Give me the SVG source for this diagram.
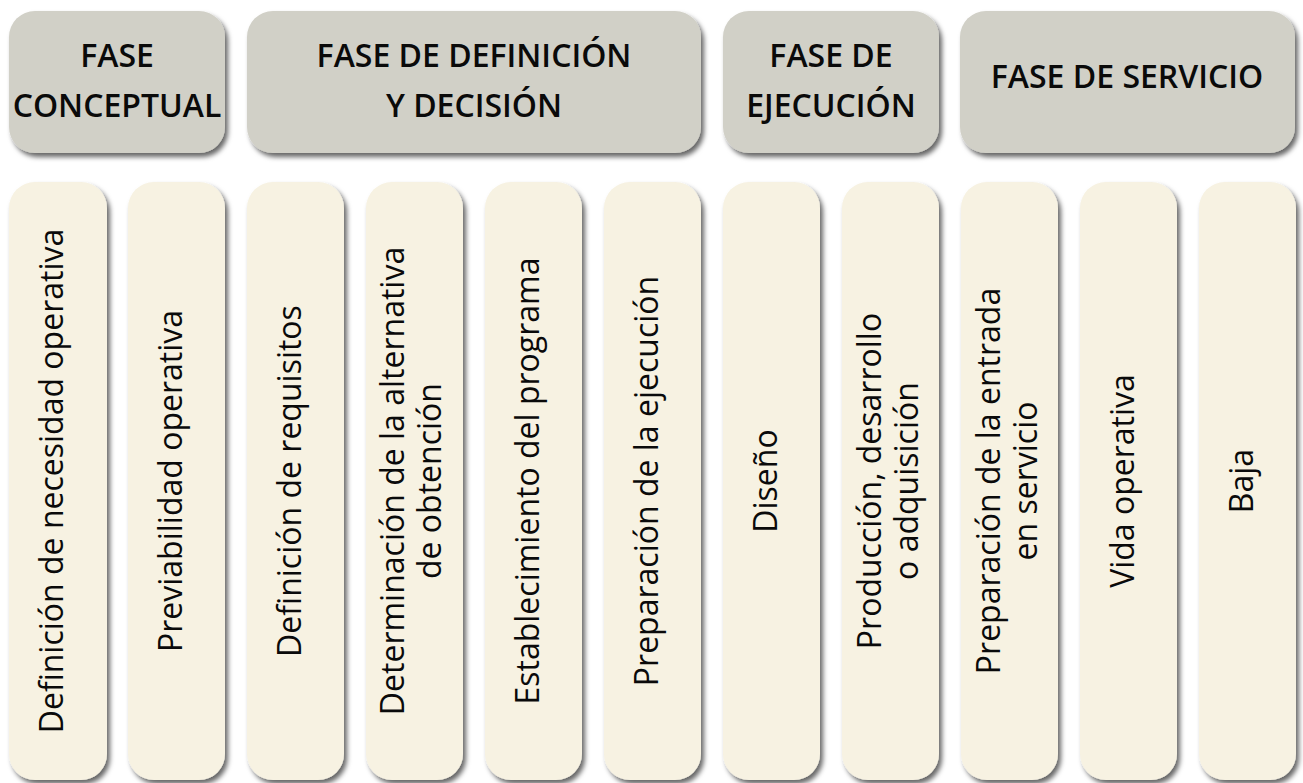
<svg xmlns="http://www.w3.org/2000/svg" width="1303" height="783" viewBox="0 0 1303 783">
<defs>
<filter id="sh" x="-10%" y="-10%" width="130%" height="130%">
<feDropShadow dx="3" dy="4" stdDeviation="2.5" flood-color="#000" flood-opacity="0.6"/>
</filter>
<style>
.hdr{fill:#d1d0c7;filter:url(#sh)}
.col{fill:#f7f2e2;filter:url(#sh)}
.ht{font-family:"Open Sans","Noto Sans",sans-serif;font-weight:600;font-size:32px;fill:#0a0a0a;text-anchor:middle}
.ct{font-family:"Open Sans","Noto Sans",sans-serif;font-weight:400;font-size:32px;fill:#0a0a0a;text-anchor:middle}
</style>
</defs>
<rect width="1303" height="783" fill="#fff"/>
<g id="connectors"/>
<g id="h1"><rect class="hdr" x="9" y="11" width="216" height="142" rx="26"/><text class="ht" x="117" y="67">FASE</text><text class="ht" x="117" y="117">CONCEPTUAL</text></g>
<g id="h2"><rect class="hdr" x="247" y="11" width="454" height="142" rx="26"/><text class="ht" x="474" y="67">FASE DE DEFINICIÓN</text><text class="ht" x="474" y="117">Y DECISIÓN</text></g>
<g id="h3"><rect class="hdr" x="723" y="11" width="216" height="142" rx="26"/><text class="ht" x="831" y="67">FASE DE</text><text class="ht" x="831" y="117">EJECUCIÓN</text></g>
<g id="h4"><rect class="hdr" x="960" y="11" width="335" height="142" rx="26"/><text class="ht" x="1127" y="88">FASE DE SERVICIO</text></g>

<g id="c1"><rect class="col" x="9" y="182" width="98" height="598" rx="26"/><text class="ct" transform="translate(63,481) rotate(-90)">Definición de necesidad operativa</text></g>
<g id="c2"><rect class="col" x="128" y="182" width="97" height="598" rx="26"/><text class="ct" transform="translate(181.5,481) rotate(-90)">Previabilidad operativa</text></g>
<g id="c3"><rect class="col" x="247" y="182" width="97" height="598" rx="26"/><text class="ct" transform="translate(300.5,481) rotate(-90)">Definición de requisitos</text></g>
<g id="c4"><rect class="col" x="366" y="182" width="97" height="598" rx="26"/><text class="ct" transform="translate(404,481) rotate(-90)">Determinación de la alternativa</text><text class="ct" transform="translate(441,481) rotate(-90)">de obtención</text></g>
<g id="c5"><rect class="col" x="485" y="182" width="97" height="598" rx="26"/><text class="ct" transform="translate(538.5,481) rotate(-90)">Establecimiento del programa</text></g>
<g id="c6"><rect class="col" x="604" y="182" width="97" height="598" rx="26"/><text class="ct" transform="translate(657.5,481) rotate(-90)">Preparación de la ejecución</text></g>
<g id="c7"><rect class="col" x="723" y="182" width="97" height="598" rx="26"/><text class="ct" transform="translate(776.5,481) rotate(-90)">Diseño</text></g>
<g id="c8"><rect class="col" x="842" y="182" width="97" height="598" rx="26"/><text class="ct" transform="translate(881,481) rotate(-90)">Producción, desarrollo</text><text class="ct" transform="translate(918,481) rotate(-90)">o adquisición</text></g>
<g id="c9"><rect class="col" x="961" y="182" width="97" height="598" rx="26"/><text class="ct" transform="translate(1000,481) rotate(-90)">Preparación de la entrada</text><text class="ct" transform="translate(1037,481) rotate(-90)">en servicio</text></g>
<g id="c10"><rect class="col" x="1080" y="182" width="97" height="598" rx="26"/><text class="ct" transform="translate(1133.5,481) rotate(-90)">Vida operativa</text></g>
<g id="c11"><rect class="col" x="1199" y="182" width="97" height="598" rx="26"/><text class="ct" transform="translate(1252.5,481) rotate(-90)">Baja</text></g>
</svg>
